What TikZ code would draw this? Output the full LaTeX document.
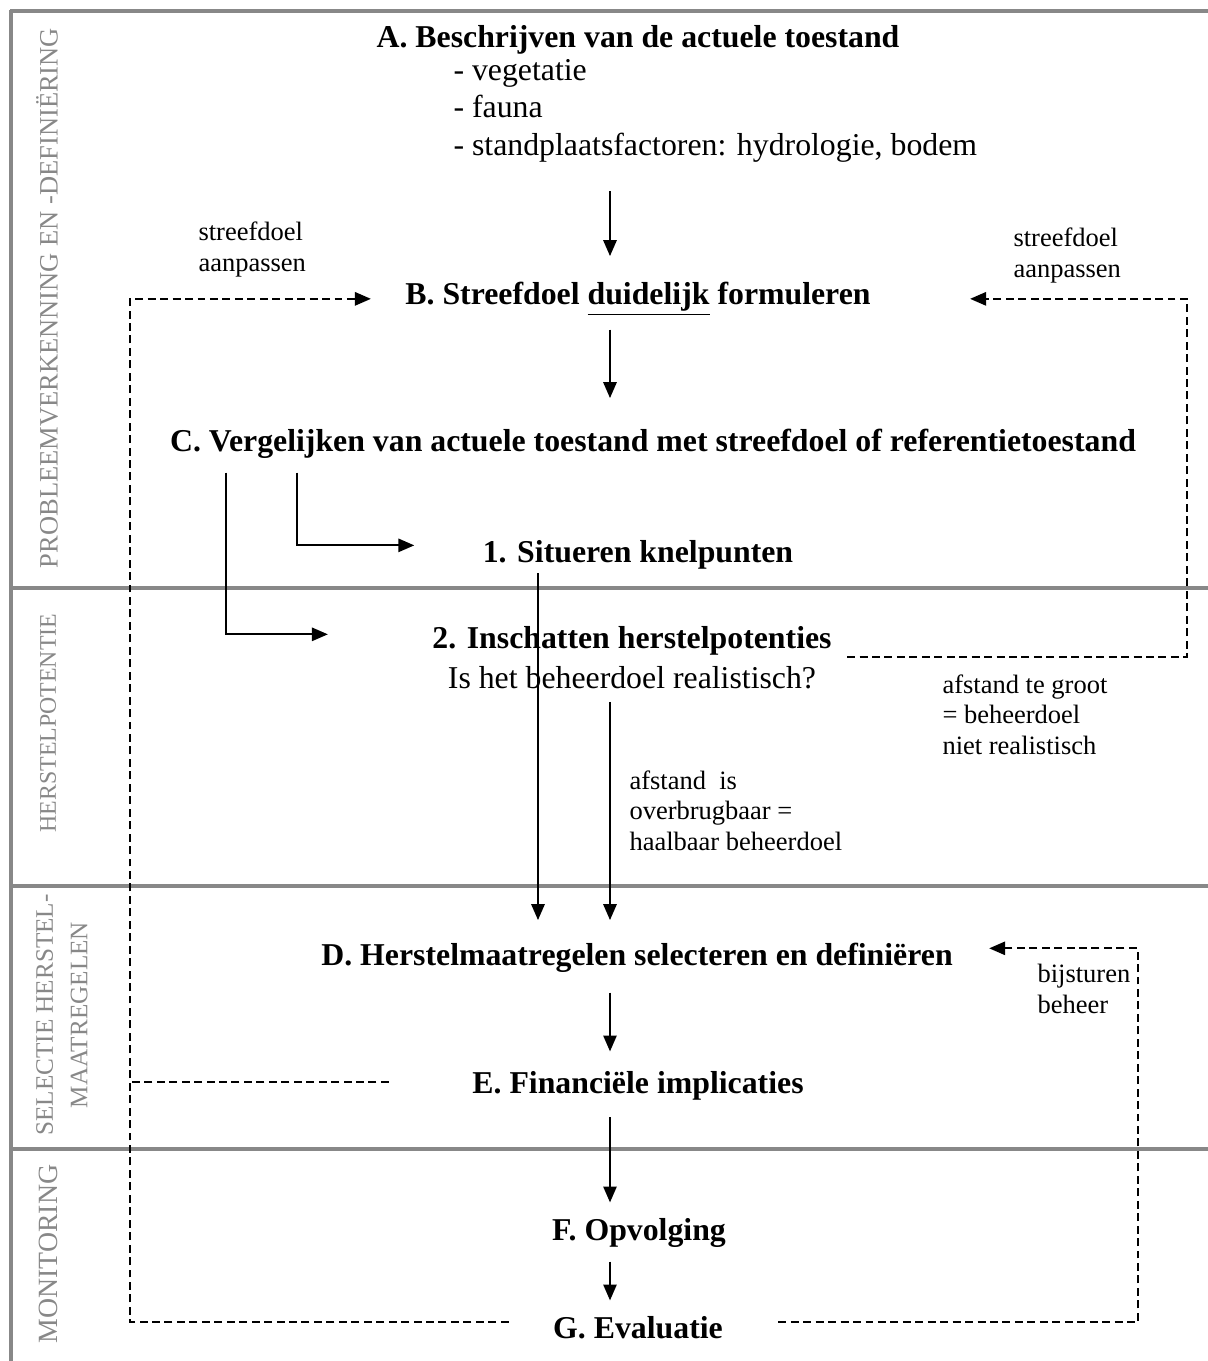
\documentclass[tikz,border=0pt]{standalone}
\usepackage{fontspec}
\setmainfont{Liberation Serif}
\usetikzlibrary{arrows.meta,calc}
\definecolor{fasegrijs}{RGB}{136,136,136}
\begin{document}
\begin{tikzpicture}[x=0.3774pt, y=-0.3774pt,
  kop/.style={font=\bfseries\fontsize{12}{14}\selectfont, inner sep=0pt, anchor=base},
  opm/.style={font=\fontsize{10}{11.5}\selectfont, align=left, inner sep=0pt, anchor=base west},
  fase/.style={rotate=90, text=fasegrijs, font=\fontsize{9}{13}\selectfont, align=center, inner sep=0pt},
  pijl/.style={line width=0.75pt, -{Triangle[length=6pt,width=5pt]}},
  lijn/.style={line width=0.75pt, dash pattern=on 3pt off 1.7pt},
  terug/.style={pijl, dash pattern=on 3pt off 1.7pt},
  band/.style={draw=fasegrijs, line width=1.4pt}]
  \useasboundingbox (0,0) rectangle (1208,1361);
  % fasen
  \draw[band] (10,11) -- (1208,11);
  \draw[band] (11,10) -- (11,1361);
  \foreach \y in {588,886,1149}
    \draw[band] (10,\y) -- (1208,\y);
  \node[fase, font=\fontsize{10}{13}\selectfont] (f1) at (47,298) {PROBLEEMVERKENNING EN -DEFINIËRING};
  \node[fase] (f2) at (48,723) {HERSTELPOTENTIE};
  \node[fase, font=\fontsize{9.5}{13}\selectfont] (f3) at (62,1015) {SELECTIE HERSTEL-\\MAATREGELEN};
  \node[fase, font=\fontsize{10.5}{13}\selectfont] (f4) at (48,1254) {MONITORING};
  % stappen (meerregelige nodes: basislijn = laatste regel)
  \node[kop] (A) at (638,47) {A. Beschrijven van de actuele toestand};
  \node[inner sep=0pt, anchor=base west, align=left, font=\fontsize{12}{14}\selectfont] (lijst) at (453,155)
    {- vegetatie\\- fauna\\- standplaatsfactoren: hydrologie, bodem};
  \node[kop] (B) at (638,304) {B. Streefdoel \underline{duidelijk} formuleren};
  \node[kop] (C) at (653,451) {C. Vergelijken van actuele toestand met streefdoel of referentietoestand};
  \node[kop] (K1) at (638,562) {1. Situeren knelpunten};
  \node[inner sep=0pt, anchor=base, align=center, font=\fontsize{12}{15}\selectfont] (K2) at (632,688)
    {\textbf{2. Inschatten herstelpotenties}\\Is het beheerdoel realistisch?};
  \node[kop] (D) at (637,965) {D. Herstelmaatregelen selecteren en definiëren};
  \node[kop] (E) at (638,1093) {E. Financiële implicaties};
  \node[kop] (F) at (639,1240) {F. Opvolging};
  \node[kop] (G) at (638,1338) {G. Evaluatie};
  % opmerkingen
  \node[opm] (n1) at (198,271) {streefdoel\\aanpassen};
  \node[opm] (n2) at (1013,277) {streefdoel\\aanpassen};
  \node[opm] (n3) at (629,850) {afstand\ \ is\\overbrugbaar =\\haalbaar beheerdoel};
  \node[opm] (n4) at (942,754) {afstand te groot\\= beheerdoel\\niet realistisch};
  \node[opm] (n5) at (1037,1013) {bijsturen\\beheer};
  % vaste x-posities
  \coordinate (as) at (610,0);
  \coordinate (t1) at (297,0);
  \coordinate (t2) at (226,0);
  \coordinate (k1x) at (538,0);
  \coordinate (links) at (130,0);
  \coordinate (rechts) at (1187,0);
  \coordinate (rechts2) at (1138,0);
  % hoofdlijn
  \draw[pijl] ($(lijst.south -| as)+(0,29)$) -- ($(B.north -| as)+(0,-25)$);
  \draw[pijl] ($(B.south -| as)+(0,13)$) -- ($(C.north -| as)+(0,-30)$);
  \draw[pijl] ($(C.south -| t1)+(0,14)$) |- ($(K1.west)+(-68,-9)$);
  \draw[pijl] ($(C.south -| t2)+(0,14)$) |- ($(K2.west)+(-104,-23)$);
  \draw[pijl] ($(K1.south -| k1x)+(0,4)$) -- ($(D.north -| k1x)+(0,-22)$);
  \draw[pijl] ($(K2.south -| as)+(0,13)$) -- ($(D.north -| as)+(0,-22)$);
  \draw[pijl] ($(D.south -| as)+(0,20)$) -- ($(E.north -| as)+(0,-19)$);
  \draw[pijl] ($(E.south -| as)+(0,17)$) -- ($(F.north -| as)+(0,-15)$);
  \draw[pijl] ($(F.south -| as)+(0,14)$) -- ($(G.north -| as)+(0,-15)$);
  % terugkoppeling
  \draw[terug] ($(K2.east)+(15,0)$) -| (rechts |- B.east) -- ($(B.east)+(99,0)$);
  \draw[terug] ($(G.west)+(-44,-5)$) -| (links |- B.west) -- ($(B.west)+(-34,0)$);
  \draw[lijn] ($(E.west)+(-83,-3)$) -- ($(links |- E.west)+(0,-3)$);
  \draw[terug] ($(G.east)+(55,-5)$) -| ($(rechts2 |- D.east)+(0,-9)$) -- ($(D.east)+(36,-9)$);
\end{tikzpicture}
\end{document}
